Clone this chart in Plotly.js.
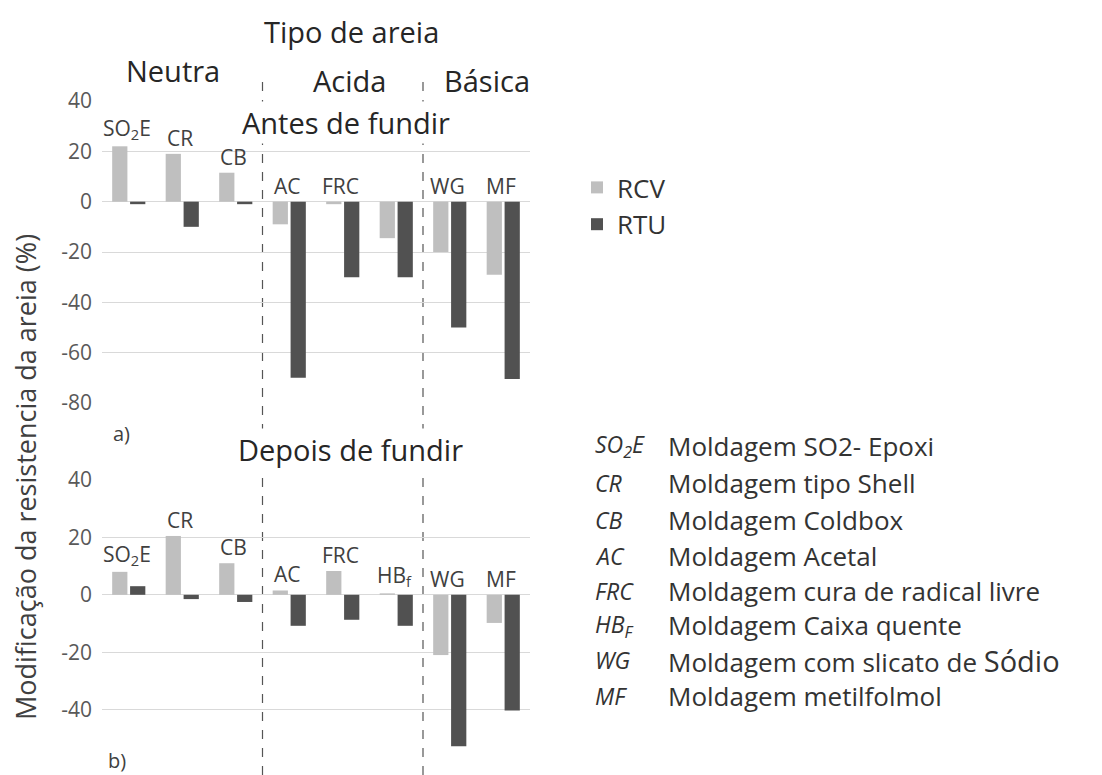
<!DOCTYPE html>
<html>
<head>
<meta charset="utf-8">
<script src="https://cdn.plot.ly/plotly-3.0.1.min.js"></script>
<style>html,body{margin:0;padding:0;background:#fff;}#chart{width:1102px;height:775px;}</style>
</head>
<body>
<div id="chart"></div>
<script>
// ---- data ----
const categories = ['SO2E', 'CR', 'CB', 'AC', 'FRC', 'HBf', 'WG', 'MF'];
const labelsBefore = ['SO<sub>2</sub>E', 'CR', 'CB', 'AC', 'FRC', '', 'WG', 'MF'];
const labelsAfter = ['SO<sub>2</sub>E', 'CR', 'CB', 'AC', 'FRC', 'HB<sub>f</sub>', 'WG', 'MF'];
const rcvBefore = [22, 19, 11.5, -9, -1, -14.5, -20, -29];
const rtuBefore = [-1, -10, -1, -70, -30, -30, -50, -70.5];
const rcvAfter = [8, 20.5, 11, 1.5, 8.3, 0.5, -21, -9.8];
const rtuAfter = [3, -1.5, -2.5, -10.8, -8.7, -10.8, -52.8, -40.3];
const seriesNames = ['RCV', 'RTU'];
const sandTypes = ['Neutra', 'Acida', 'Básica'];
const yTicksBefore = [-80, -60, -40, -20, 0, 20, 40];
const yTicksAfter = [-60, -40, -20, 0, 20, 40];
const abbrevs = ['SO<sub>2</sub>E', 'CR', 'CB', 'AC', 'FRC', 'HB<sub>F</sub>', 'WG', 'MF'];
const descriptions = ['Moldagem SO2- Epoxi', 'Moldagem tipo Shell', 'Moldagem Coldbox', 'Moldagem Acetal',
  'Moldagem cura de radical livre', 'Moldagem Caixa quente',
  'Moldagem com slicato de <span style="font-size:29px">Sódio</span>', 'Moldagem metilfolmol'];

// ---- style ----
const W = 1102, H = 775;
const FONT = '"Open Sans", "Noto Sans", sans-serif';
const cRCV = '#bfbfbf', cRTU = '#515151';
const px = v => v / W, py = v => 1 - v / H;

const traces = [
  {type: 'bar', name: seriesNames[0], x: categories, y: rcvBefore, xaxis: 'x', yaxis: 'y', marker: {color: cRCV}},
  {type: 'bar', name: seriesNames[1], x: categories, y: rtuBefore, xaxis: 'x', yaxis: 'y', marker: {color: cRTU}},
  {type: 'bar', name: seriesNames[0], x: categories, y: rcvAfter, xaxis: 'x2', yaxis: 'y2', marker: {color: cRCV}, showlegend: false},
  {type: 'bar', name: seriesNames[1], x: categories, y: rtuAfter, xaxis: 'x2', yaxis: 'y2', marker: {color: cRTU}, showlegend: false}
];

const xDom = [px(102), px(530)];
const axisY = (dom, rng, ticks, anchor) => ({
  domain: dom, range: rng, tickvals: ticks, ticktext: ticks.map(String), anchor: anchor,
  showgrid: true, gridcolor: '#d9d9d9', gridwidth: 1, zeroline: false, showline: false,
  ticks: '', ticklabelstandoff: 9, tickfont: {family: FONT, size: 21, color: '#595959'}, fixedrange: true
});
const axisX = (anchor) => ({
  domain: xDom, anchor: anchor, type: 'category', categoryorder: 'array', categoryarray: categories,
  showticklabels: false, showgrid: false, zeroline: false, showline: false, ticks: '', fixedrange: true,
  range: [-0.5, categories.length - 0.5]
});

const ann = [];
const txt = (text, x, y, size, opts) => Object.assign({
  text: text, x: px(x), y: py(y), xref: 'paper', yref: 'paper', showarrow: false,
  xanchor: 'center', yanchor: 'middle', font: {family: FONT, size: size, color: '#262626'}
}, opts || {});

// category labels above the bars
function addLabels(labels, rcv, rtu, xr, yr) {
  labels.forEach((l, i) => {
    if (!l) return;
    ann.push({text: l, x: categories[i], y: Math.max(rcv[i], rtu[i], 0), xref: xr, yref: yr,
      showarrow: false, xanchor: 'center', yanchor: 'bottom', yshift: 0, xshift: -2,
      font: {family: FONT, size: 21, color: '#404040'}});
  });
}
addLabels(labelsBefore, rcvBefore, rtuBefore, 'x', 'y');
addLabels(labelsAfter, rcvAfter, rtuAfter, 'x2', 'y2');

ann.push(txt('Tipo de areia', 351, 32, 29));
ann.push(txt(sandTypes[0], 173, 70, 29));
ann.push(txt(sandTypes[1], 349, 80, 29));
ann.push(txt(sandTypes[2], 487, 80, 29));
ann.push(txt('Antes de fundir', 346, 123, 29, {bgcolor: '#ffffff'}));
ann.push(txt('Depois de fundir', 350, 449, 29, {bgcolor: '#ffffff'}));
ann.push(txt('a)', 121, 433, 20, {font: {family: FONT, size: 20, color: '#404040'}}));
ann.push(txt('b)', 117, 760, 20, {font: {family: FONT, size: 20, color: '#404040'}}));
ann.push(txt('Modificação da resistencia da areia (%)', 25, 477, 27, {textangle: -90, font: {family: FONT, size: 27, color: '#404040'}}));

// abbreviation list
const rowY = [446, 483, 520, 556, 591, 625, 660, 696];
abbrevs.forEach((a, i) => {
  ann.push(txt('<i>' + a + '</i>', 593, rowY[i], 23, {xanchor: 'left', font: {family: FONT, size: 23, color: '#333'}}));
  ann.push(txt(descriptions[i], 666, rowY[i], 26, {xanchor: 'left', font: {family: FONT, size: 26, color: '#333'}}));
});

// dashed separators between sand types
const shapes = [2.5, 5.5].map(v => ({
  type: 'line', xref: 'x', yref: 'paper', x0: v, x1: v, y0: 0, y1: py(75),
  line: {color: '#555', width: 1.2, dash: 'dash'}, layer: 'below'
}));

const layout = {
  width: W, height: H, margin: {l: 0, r: 0, t: 0, b: 0},
  paper_bgcolor: '#fff', plot_bgcolor: 'rgba(0,0,0,0)',
  font: {family: FONT, color: '#333'},
  barmode: 'group', bargap: 0.33, bargroupgap: 0.15,
  xaxis: axisX('y'), xaxis2: axisX('y2'),
  yaxis: axisY([py(403), py(101)], [-80, 40], yTicksBefore, 'x'),
  yaxis2: axisY([py(767), py(480)], [-60, 40], yTicksAfter, 'x2'),
  showlegend: true,
  legend: {x: px(577), y: py(164), xanchor: 'left', yanchor: 'top', bgcolor: 'rgba(0,0,0,0)',
    font: {family: FONT, size: 26, color: '#333'}, itemwidth: 30, tracegroupgap: 0},
  annotations: ann, shapes: shapes
};

Plotly.newPlot('chart', traces, layout, {displayModeBar: false, staticPlot: true});
</script>
</body>
</html>
